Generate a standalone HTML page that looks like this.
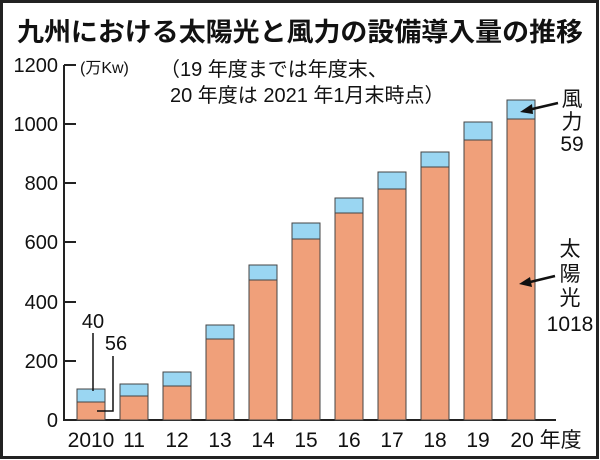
<!DOCTYPE html>
<html><head><meta charset="utf-8"><style>
html,body{margin:0;padding:0;background:#fff;}
svg{display:block;}
text{font-family:"Liberation Sans","Noto Sans CJK JP",sans-serif;fill:#111;}
</style></head><body>
<svg width="600" height="460" viewBox="0 0 600 460">
<rect x="1.5" y="1.5" width="596" height="456" fill="#fff" stroke="#222" stroke-width="3"/>
<text x="300" y="41" font-size="26" font-weight="bold" text-anchor="middle" textLength="566" lengthAdjust="spacingAndGlyphs">九州における太陽光と風力の設備導入量の推移</text>
<g stroke="#222" stroke-width="2" fill="none">
<line x1="64" y1="65" x2="64" y2="421"/>
<line x1="63" y1="420" x2="556" y2="420"/>
<line x1="64" y1="65" x2="76" y2="65"/>
<line x1="64" y1="124" x2="76" y2="124"/>
<line x1="64" y1="183" x2="76" y2="183"/>
<line x1="64" y1="242" x2="76" y2="242"/>
<line x1="64" y1="302" x2="76" y2="302"/>
<line x1="64" y1="361" x2="76" y2="361"/>
</g>
<g font-size="20" text-anchor="end">
<text x="58" y="72">1200</text><text x="58" y="131">1000</text><text x="58" y="190">800</text>
<text x="58" y="249">600</text><text x="58" y="309">400</text><text x="58" y="368">200</text><text x="58" y="427">0</text>
</g>
<text x="80" y="73" font-size="16">(万Kw)</text>
<text x="160" y="76" font-size="20">（19 年度までは年度末、</text>
<text x="170" y="102" font-size="20">20 年度は 2021 年1月末時点）</text>
<g stroke="#444" stroke-width="1">
<rect x="77" y="402" width="28" height="18" fill="#F0A07A"/><rect x="77" y="389" width="28" height="13" fill="#9AD6F2"/>
<rect x="120" y="396" width="28" height="24" fill="#F0A07A"/><rect x="120" y="384" width="28" height="12" fill="#9AD6F2"/>
<rect x="163" y="386" width="28" height="34" fill="#F0A07A"/><rect x="163" y="372" width="28" height="14" fill="#9AD6F2"/>
<rect x="206" y="339" width="28" height="81" fill="#F0A07A"/><rect x="206" y="325" width="28" height="14" fill="#9AD6F2"/>
<rect x="249" y="280" width="28" height="140" fill="#F0A07A"/><rect x="249" y="265" width="28" height="15" fill="#9AD6F2"/>
<rect x="292" y="239" width="28" height="181" fill="#F0A07A"/><rect x="292" y="223" width="28" height="16" fill="#9AD6F2"/>
<rect x="335" y="213" width="28" height="207" fill="#F0A07A"/><rect x="335" y="198" width="28" height="15" fill="#9AD6F2"/>
<rect x="378" y="189" width="28" height="231" fill="#F0A07A"/><rect x="378" y="172" width="28" height="17" fill="#9AD6F2"/>
<rect x="421" y="167" width="28" height="253" fill="#F0A07A"/><rect x="421" y="152" width="28" height="15" fill="#9AD6F2"/>
<rect x="464" y="140" width="28" height="280" fill="#F0A07A"/><rect x="464" y="122" width="28" height="18" fill="#9AD6F2"/>
<rect x="507" y="119" width="28" height="301" fill="#F0A07A"/><rect x="507" y="100" width="28" height="19" fill="#9AD6F2"/>
</g>
<g font-size="21" text-anchor="middle">
<text x="91" y="447">2010</text><text x="134" y="447">11</text><text x="177" y="447">12</text>
<text x="220" y="447">13</text><text x="263" y="447">14</text><text x="306" y="447">15</text>
<text x="349" y="447">16</text><text x="392" y="447">17</text><text x="435" y="447">18</text>
<text x="478" y="447">19</text><text x="546" y="447">20 年度</text>
</g>
<text x="93" y="328" font-size="20" text-anchor="middle">40</text>
<text x="116" y="350" font-size="20" text-anchor="middle">56</text>
<g stroke="#111" stroke-width="1.5" fill="none">
<polyline points="93,333 93,391"/>
<polyline points="113,356 113,411 97,411"/>
<line x1="558" y1="103" x2="528" y2="110" stroke-width="2.5"/>
<line x1="555" y1="276" x2="526" y2="283" stroke-width="2.5"/>
</g>
<polygon points="520,112 532,104 533,114" fill="#111"/>
<polygon points="519,284 530,277 532,287" fill="#111"/>
<g font-size="21" text-anchor="middle">
<text x="572" y="106">風</text><text x="572" y="129">力</text><text x="572" y="151">59</text>
<text x="570" y="256">太</text><text x="570" y="281">陽</text><text x="570" y="305">光</text><text x="570" y="331">1018</text>
</g>
</svg>
</body></html>
